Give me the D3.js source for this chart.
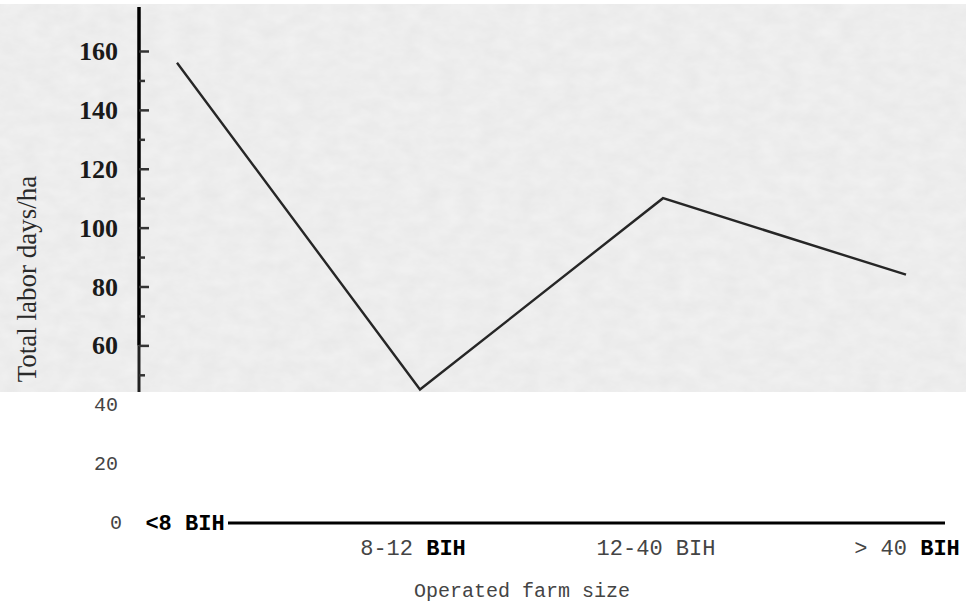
<!DOCTYPE html>
<html>
<head>
<meta charset="utf-8">
<script src="https://cdn.jsdelivr.net/npm/d3@7"></script>
<style>
  body { margin: 0; background: #fff; }
</style>
</head>
<body>
<div class="canvas"></div>
<script>
// data
const categories = ["<8 BIH", "8-12 BIH", "12-40 BIH", "> 40 BIH"];
const laborDays = [156, 45, 110, 84];
const scanTicks = [60, 80, 100, 120, 140, 160];
const typedTicks = [0, 20, 40];
// label pieces: [text, bold]
const catLabels = [
  [["<8 BIH", true]],
  [["8-12 ", false], ["BIH", true]],
  [["12-40 BIH", false]],
  [["> 40 ", false], ["BIH", true]]
];

const svgWidth = 966, svgHeight = 605;
const scanBottom = 392;

const svg = d3.select(".canvas").append("svg")
  .attr("width", svgWidth)
  .attr("height", svgHeight);

// paper texture for the scanned part
const defs = svg.append("defs");
const f = defs.append("filter").attr("id", "paper").attr("x", 0).attr("y", 0).attr("width", 1).attr("height", 1);
f.append("feTurbulence").attr("type", "fractalNoise").attr("baseFrequency", "0.05 0.08").attr("numOctaves", 3).attr("seed", 4);
f.append("feColorMatrix").attr("type", "matrix")
  .attr("values", "0 0 0 0 0.45  0 0 0 0 0.45  0 0 0 0 0.45  0 0 0 0.16 0");
defs.append("clipPath").attr("id", "scanClip")
  .append("rect").attr("x", 0).attr("y", 0).attr("width", svgWidth).attr("height", scanBottom);

svg.append("rect").attr("x", 0).attr("y", 4).attr("width", svgWidth).attr("height", scanBottom - 4).attr("fill", "#f2f2f2");
svg.append("rect").attr("x", 0).attr("y", 4).attr("width", svgWidth).attr("height", scanBottom - 4).attr("filter", "url(#paper)");

// scales
const x = d3.scalePoint().domain(categories).range([177, 906]);
const y = d3.scaleLinear().domain([0, 160]).range([522, 51]);
const axisX = 139;

const scan = svg.append("g").attr("clip-path", "url(#scanClip)");

// y axis line (thick in upper part)
scan.append("line")
  .attr("x1", axisX).attr("x2", axisX)
  .attr("y1", 7).attr("y2", y(60))
  .attr("stroke", "#000").attr("stroke-width", 3.5);
scan.append("line")
  .attr("x1", axisX).attr("x2", axisX)
  .attr("y1", y(60)).attr("y2", scanBottom)
  .attr("stroke", "#222").attr("stroke-width", 3);

// ticks
const gy = scan.append("g").attr("transform", `translate(${axisX},0)`)
  .call(d3.axisRight(y).tickValues(d3.range(50, 170, 10)).tickSize(0).tickFormat(""));
gy.select(".domain").remove();
gy.selectAll(".tick line")
  .attr("x2", d => d % 20 === 0 ? 10 : 6)
  .attr("stroke", "#333")
  .attr("stroke-width", 2.5);

// tick labels in scan
scan.selectAll(".scanlab")
  .data(scanTicks)
  .join("text")
  .attr("x", 118)
  .attr("y", d => y(d))
  .attr("dy", "0.35em")
  .attr("text-anchor", "end")
  .attr("font-family", "Liberation Serif, serif")
  .attr("font-weight", "bold")
  .attr("font-size", 26)
  .attr("fill", "#1a1a1a")
  .text(d => d);

// y title
scan.append("text")
  .attr("transform", "translate(36,279) rotate(-90)")
  .attr("text-anchor", "middle")
  .attr("font-family", "Liberation Serif, serif")
  .attr("font-size", 27)
  .attr("fill", "#2a2a2a")
  .text("Total labor days/ha");

// the line
const line = d3.line()
  .x((d, i) => x(categories[i]))
  .y(d => y(d));

scan.append("path")
  .datum(laborDays)
  .attr("d", line)
  .attr("fill", "none")
  .attr("stroke", "#262626")
  .attr("stroke-width", 2.4);

// typed lower part
const mono = "Liberation Mono, DejaVu Sans Mono, monospace";

svg.selectAll(".typedlab")
  .data(typedTicks)
  .join("text")
  .attr("x", d => d === 0 ? 122 : 118)
  .attr("y", d => y(d))
  .attr("dy", "0.35em")
  .attr("text-anchor", "end")
  .attr("font-family", mono)
  .attr("font-size", 20)
  .attr("fill", "#444")
  .text(d => d);

// x axis line
svg.append("line")
  .attr("x1", 228).attr("x2", 945)
  .attr("y1", y(0) + 1).attr("y2", y(0) + 1)
  .attr("stroke", "#000").attr("stroke-width", 3);

// category labels
const xl = svg.selectAll(".catlab")
  .data(catLabels)
  .join("text")
  .attr("x", (d, i) => x(categories[i]) + (i === 0 ? 8 : i === 3 ? 1 : -7))
  .attr("y", (d, i) => i === 0 ? y(0) : y(0) + 25)
  .attr("dy", "0.35em")
  .attr("text-anchor", "middle")
  .attr("font-family", mono)
  .attr("font-size", 22)
  .attr("fill", "#333");

xl.selectAll("tspan")
  .data(d => d)
  .join("tspan")
  .attr("font-weight", d => d[1] ? "bold" : "normal")
  .attr("fill", d => d[1] ? "#000" : "#444")
  .text(d => d[0]);

// x title
svg.append("text")
  .attr("x", 522)
  .attr("y", 590)
  .attr("dy", "0.35em")
  .attr("text-anchor", "middle")
  .attr("font-family", mono)
  .attr("font-size", 20)
  .attr("fill", "#444")
  .text("Operated farm size");
</script>
</body>
</html>
